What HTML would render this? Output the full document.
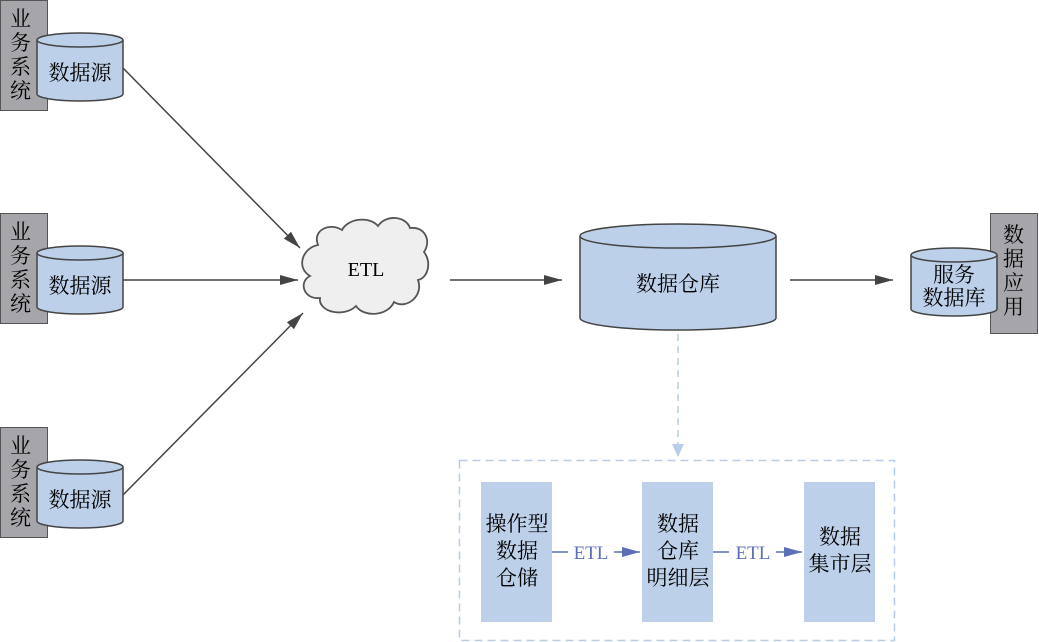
<!DOCTYPE html>
<html><head><meta charset="utf-8"><style>
html,body{margin:0;padding:0;background:#fff;overflow:hidden;width:1039px;height:642px}
svg{display:block}
svg text{font-family:"Liberation Serif","Noto Serif CJK SC","Noto Sans CJK SC",serif;fill:#000}
</style></head><body>
<svg width="1039" height="642" viewBox="0 0 1039 642" xmlns="http://www.w3.org/2000/svg">
<defs>
<marker id="ak" markerWidth="20" markerHeight="10" refX="18" refY="5" orient="auto" markerUnits="userSpaceOnUse"><path d="M0,0 L18,5 L0,10Z" fill="#444"/></marker>
<marker id="ab" markerWidth="20" markerHeight="10" refX="18" refY="5" orient="auto" markerUnits="userSpaceOnUse"><path d="M0,0 L18,5 L0,10Z" fill="#5b6fb8"/></marker>
</defs>
<g font-size="21">
<g>
<rect x="0.5" y="0.5" width="47" height="110" fill="#a6a5aa" stroke="#555"/>
<text x="10" y="26">业</text><text x="10" y="50">务</text><text x="10" y="74">系</text><text x="10" y="98">统</text>
<path d="M37,40 L37,94 A43,7 0 0 0 123,94 L123,40" fill="#bdd0e9" stroke="#444" stroke-width="1.5"/>
<ellipse cx="80" cy="40" rx="43" ry="7" fill="#bdd0e9" stroke="#444" stroke-width="1.5"/>
<text x="80" y="80" text-anchor="middle">数据源</text>
</g>
<g transform="translate(0,213)">
<rect x="0.5" y="0.5" width="47" height="110" fill="#a6a5aa" stroke="#555"/>
<text x="10" y="26">业</text><text x="10" y="50">务</text><text x="10" y="74">系</text><text x="10" y="98">统</text>
<path d="M37,40 L37,94 A43,7 0 0 0 123,94 L123,40" fill="#bdd0e9" stroke="#444" stroke-width="1.5"/>
<ellipse cx="80" cy="40" rx="43" ry="7" fill="#bdd0e9" stroke="#444" stroke-width="1.5"/>
<text x="80" y="80" text-anchor="middle">数据源</text>
</g>
<g transform="translate(0,427)">
<rect x="0.5" y="0.5" width="47" height="110" fill="#a6a5aa" stroke="#555"/>
<text x="10" y="26">业</text><text x="10" y="50">务</text><text x="10" y="74">系</text><text x="10" y="98">统</text>
<path d="M37,40 L37,94 A43,7 0 0 0 123,94 L123,40" fill="#bdd0e9" stroke="#444" stroke-width="1.5"/>
<ellipse cx="80" cy="40" rx="43" ry="7" fill="#bdd0e9" stroke="#444" stroke-width="1.5"/>
<text x="80" y="80" text-anchor="middle">数据源</text>
</g>
<line x1="123" y1="68" x2="300" y2="248" stroke="#444" stroke-width="1.5" marker-end="url(#ak)"/>
<line x1="123" y1="280" x2="298" y2="280" stroke="#444" stroke-width="1.5" marker-end="url(#ak)"/>
<line x1="123" y1="495" x2="303" y2="313" stroke="#444" stroke-width="1.5" marker-end="url(#ak)"/>
<path d="M318,245 C312,230 330,222 342,230 C348,218 370,216 378,226 C386,214 406,216 410,228 C424,226 432,240 424,252 C432,262 428,278 418,280 C424,296 406,310 394,302 C388,316 364,318 356,306 C344,318 318,312 320,298 C304,300 298,282 310,276 C296,268 302,248 318,245 Z" fill="#efeff0" stroke="#555" stroke-width="1.8"/>
<text x="366" y="276" text-anchor="middle" font-size="20">ETL</text>
<line x1="450" y1="280" x2="562" y2="280" stroke="#444" stroke-width="1.5" marker-end="url(#ak)"/>
<path d="M580,236 L580,318 A98,12 0 0 0 776,318 L776,236" fill="#bdd0e9" stroke="#444" stroke-width="1.5"/>
<ellipse cx="678" cy="236" rx="98" ry="12" fill="#bdd0e9" stroke="#444" stroke-width="1.5"/>
<text x="678" y="291" text-anchor="middle">数据仓库</text>
<line x1="790" y1="280" x2="893" y2="280" stroke="#444" stroke-width="1.5" marker-end="url(#ak)"/>
<rect x="990.5" y="213.5" width="47" height="120" fill="#a6a5aa" stroke="#555"/>
<text x="1003" y="242">数</text><text x="1003" y="266">据</text><text x="1003" y="290">应</text><text x="1003" y="314">用</text>
<path d="M911,255 L911,309 A43,7 0 0 0 997,309 L997,255" fill="#bdd0e9" stroke="#444" stroke-width="1.5"/>
<ellipse cx="954" cy="255" rx="43" ry="7" fill="#bdd0e9" stroke="#444" stroke-width="1.5"/>
<text x="954" y="282" text-anchor="middle">服务</text>
<text x="954" y="305" text-anchor="middle">数据库</text>
<line x1="678" y1="334" x2="678" y2="456" stroke="#b8cde8" stroke-width="1.5" stroke-dasharray="7,5"/>
<path d="M672,444 L678,457 L684,444Z" fill="#b8cde8"/>
<rect x="459.5" y="460.5" width="435" height="180" fill="none" stroke="#b8cde8" stroke-width="1.5" stroke-dasharray="8,5"/>
<rect x="481" y="482" width="71" height="140" fill="#bdd0e9"/>
<rect x="642" y="482" width="71" height="140" fill="#bdd0e9"/>
<rect x="804" y="482" width="71" height="140" fill="#bdd0e9"/>
<text x="517" y="531" text-anchor="middle">操作型</text>
<text x="517" y="558" text-anchor="middle">数据</text>
<text x="517" y="585" text-anchor="middle">仓储</text>
<text x="678" y="531" text-anchor="middle">数据</text>
<text x="678" y="558" text-anchor="middle">仓库</text>
<text x="678" y="585" text-anchor="middle">明细层</text>
<text x="840" y="544" text-anchor="middle">数据</text>
<text x="840" y="571" text-anchor="middle">集市层</text>
<g stroke="#5b6fb8" stroke-width="1.5">
<line x1="552" y1="552" x2="568" y2="552"/><line x1="614" y1="552" x2="640" y2="552" marker-end="url(#ab)"/>
<line x1="713" y1="552" x2="729" y2="552"/><line x1="776" y1="552" x2="802" y2="552" marker-end="url(#ab)"/>
</g>
<text x="591" y="559" text-anchor="middle" font-size="19" style="fill:#5b6fb8">ETL</text>
<text x="753" y="559" text-anchor="middle" font-size="19" style="fill:#5b6fb8">ETL</text>
</g>
</svg>
</body></html>
